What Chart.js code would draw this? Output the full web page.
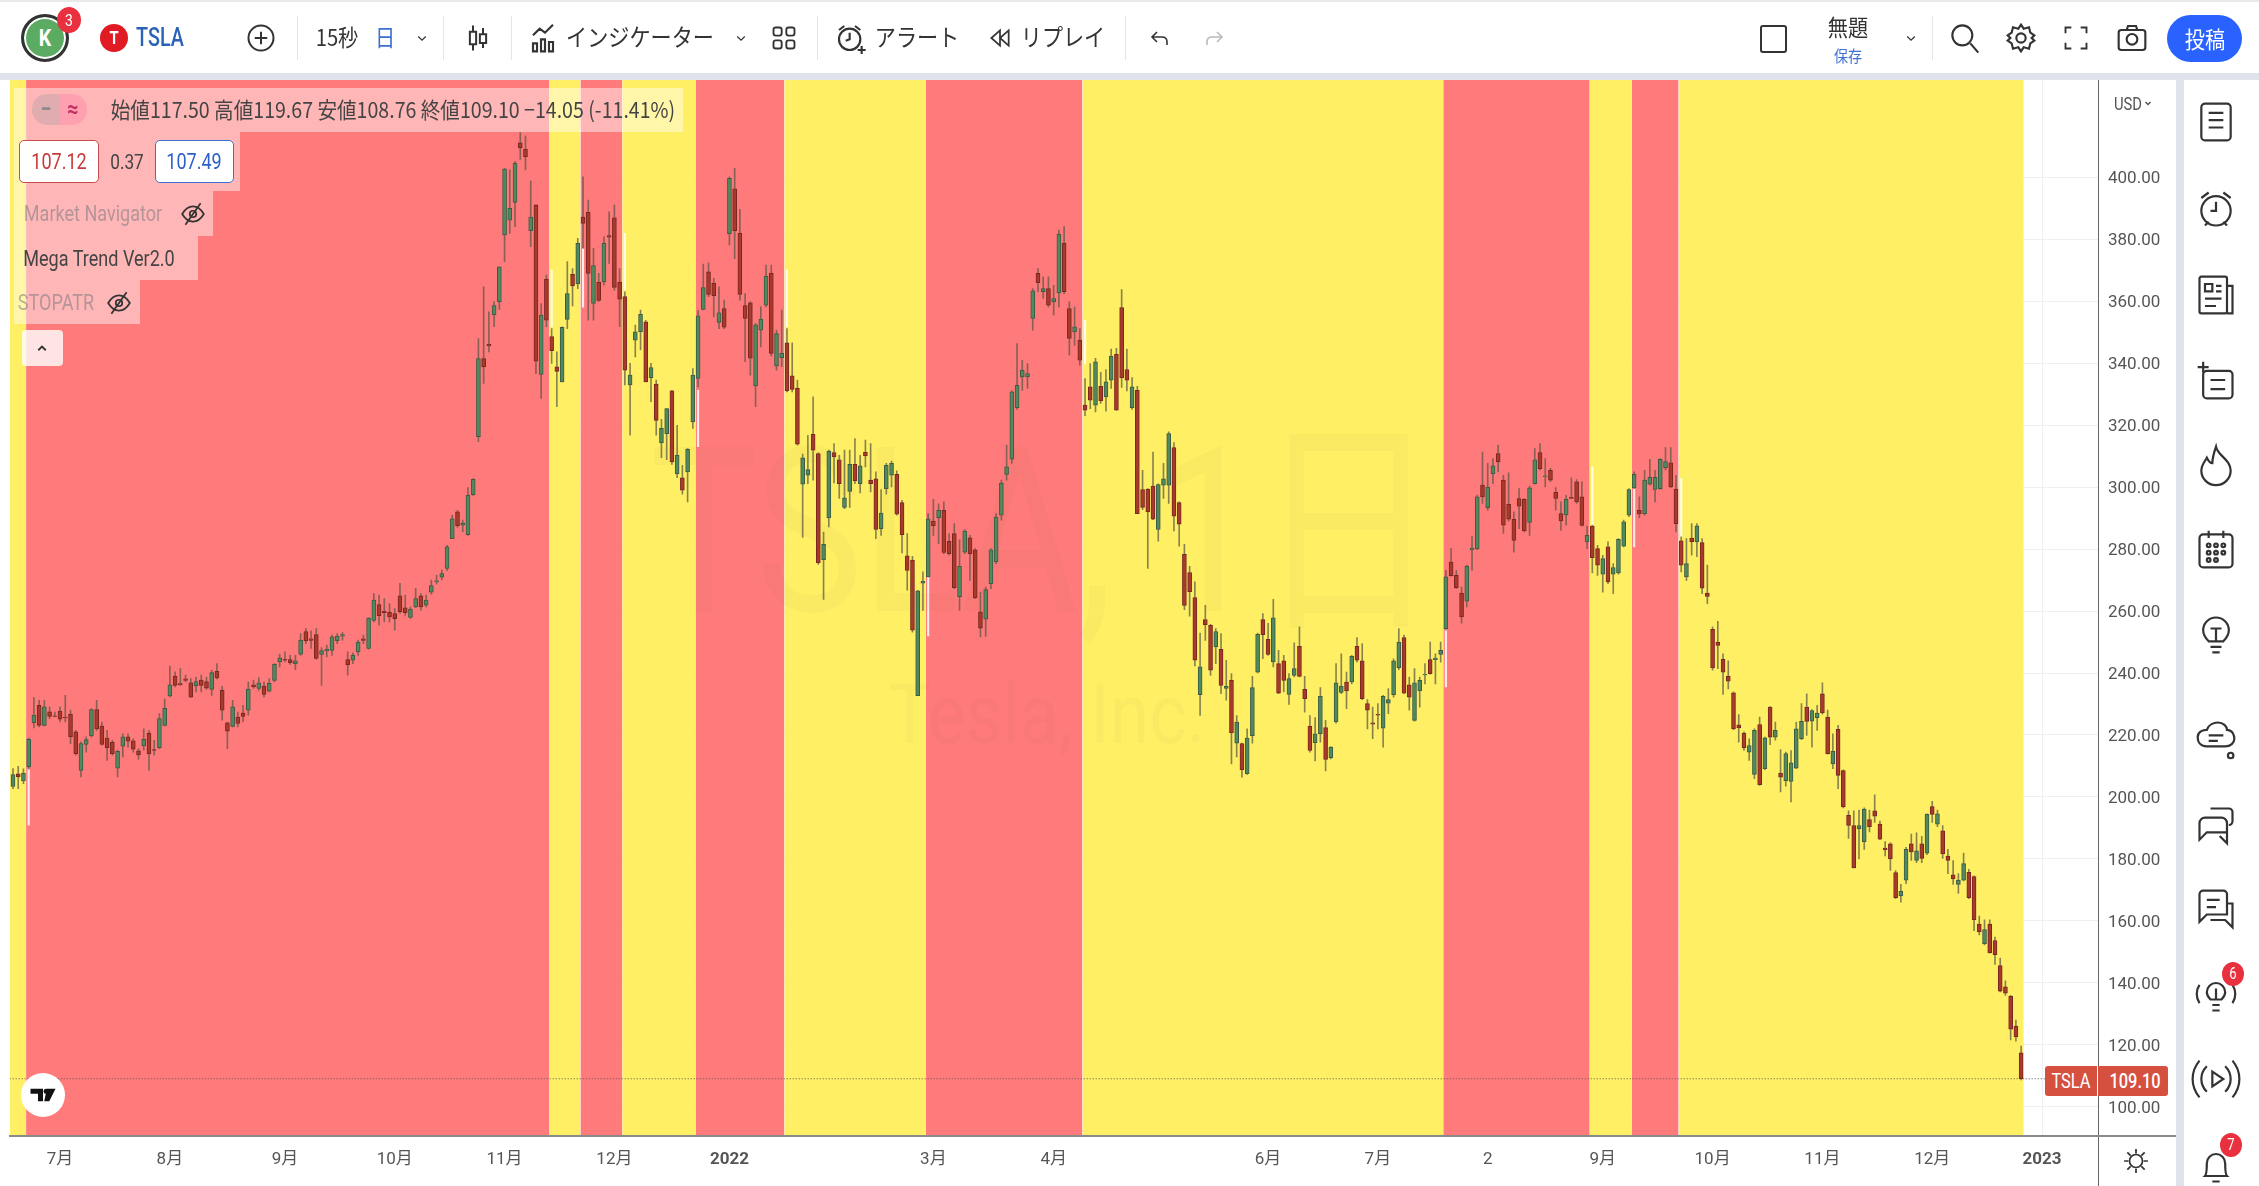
<!DOCTYPE html>
<html lang="ja">
<head>
<meta charset="utf-8">
<title>TSLA</title>
<script src="https://cdn.jsdelivr.net/npm/chart.js@4/dist/chart.umd.js"></script>
<style>
html, body { margin: 0; background: #fff; }
#page { position: relative; width: 2259px; height: 1186px; overflow: hidden; background: #fff; }
#chart { position: absolute; left: 0; top: 0; }
.t { position: absolute; white-space: nowrap; transform: translate(-50%, -50%) scaleX(0.82); color: #333;
     font-family: Roboto, "Noto Sans CJK JP", sans-serif; line-height: 1; }
.b { position: absolute; box-sizing: border-box; }
svg.i { position: absolute; transform: translate(-50%, -50%); fill: none; stroke: #333; stroke-width: 1.6; overflow: visible; }
</style>
</head>
<body>
<div id="page">
  <div class="b" style="left:0;top:0;width:2259px;height:2px;background:#e9e9ec"></div>
  <div class="b" style="left:0;top:73px;width:2259px;height:7px;background:#e0e3eb"></div>
  <div class="b" style="left:2176px;top:80px;width:8px;height:1106px;background:#e0e3eb"></div>
  <canvas id="chart" width="2259" height="1186"></canvas>
  <div id="ui"></div>
</div>
<script>
// daily candles
const opens = [
203.4,207.5,205.2,209.7,224,229.6,223.1,227.5,226.2,227.7,
225.8,226.7,221,208.6,217,219.7,228.2,222.9,219,217.6,
209.3,216.4,219.4,218.1,214.9,216.5,220.6,215.3,215.9,223.1,
232.6,239,236.6,238.1,236.8,235.9,237.7,237.2,234.7,240.5,
234.4,223.9,222.8,225.8,227.1,228,236.2,235,235.8,234.1,
237.6,243.6,244.4,244.3,243,246.1,253.4,251,252.4,246,
247.1,247.3,250.4,251.9,244.3,244.1,246.8,251,247.9,257,
262.1,260,259.6,259.2,264.9,261,257.9,261.3,264.9,261.9,
266.1,269.5,270.9,273.7,283.3,292,287.7,284.6,297.5,316.2,
341.4,346,355.5,359.8,381.3,386.1,391.8,411,409,382.7,
391,336.3,367.1,348.5,338.8,333.9,354.1,368.6,365.5,387.1,
388.6,359.2,366,366.2,381.1,386.8,366.1,361.4,332.9,347.4,
350.1,353.3,335.3,333.2,314.2,317.2,331,304.3,303,304.9,
321,335,357.3,369.4,365.7,353.1,357.6,381.7,396.2,381.8,
358.5,359.4,332.6,350.6,358.7,369,339.1,341.7,346.5,335.9,
331.8,300.9,303.8,317,310.8,276.6,290,311.1,308.8,293.4,
298.6,307.3,301.1,311.2,302.2,302.6,286.6,299.5,303.8,304.1,
295,277.8,276.4,232.7,269,271,289,290.1,292.5,282.5,
285,264.6,279,283.6,279.7,259.7,257.4,268.8,275.9,290.9,
304.1,309,325.6,335.5,335.5,354.4,368.9,363,364,359.7,
362.6,378.6,357.6,350,347.3,326.4,332.3,326.4,332.5,329.1,
334.5,342.8,357.9,337.9,325.6,331.2,299.2,299.3,300.3,286.3,
300.6,300.6,312.7,295,278.3,272.4,264.3,233,257.2,255.4,
248.4,247.6,235,237.6,217.4,217.2,207.5,219.8,240.3,257.2,
250.9,243.6,243,243.9,233.1,239.2,248.6,234.7,222.8,217.5,
220.4,222.4,212.7,224.2,233.7,237.1,237.1,248.6,243.9,230.1,
223.9,226.7,222.2,230.3,233,241.7,251.4,236.2,224.7,234.2,
239.4,244.3,244.3,246,254.3,275.8,271.5,265.8,263.2,279.8,
280,300.6,293.3,304.3,310.8,302.2,294.4,289.6,296.3,296,
288.6,301.1,311.1,303.3,305.4,298.3,291.4,291,296.7,301.7,
296.8,282.3,287.4,280.1,271.9,280.7,271.9,272.3,280.9,290.9,
299.7,292.5,291.4,300.9,299.2,299.5,306.2,307.8,299.3,282.6,
271,283.5,282.3,282.1,265.8,254.1,250,244.4,238.9,233.6,
223.3,220.6,214.5,207.3,223.4,209.1,229,219.3,207.7,205.3,
205,209.3,218.8,229,224.5,225.6,233.3,225.8,210.7,221.8,
208.5,194.1,190.8,189.8,185.6,192.7,195.5,191.3,183.5,184.9,
175.6,168.1,173.2,184.9,179.5,184.9,181.9,196.9,191.2,189.1,
180.9,174.9,171.8,173.2,175.7,174.3,159,152.7,159,153.7,
145.6,138.8,135.7,126.1,117.5];
const highs = [
209.2,209.9,209.1,219,232.1,231.2,231.2,229.1,227.4,229.1,
232.8,228,221.5,217.8,219.4,228.5,231.2,224.2,221.5,218.3,
215.1,220.4,220.4,218.8,215.6,222,221.5,218.3,226.9,231.7,
242.2,240.4,241.4,239.3,238.2,238.7,239.3,238.7,240.9,243,
235.7,224.2,231.2,227.4,229.6,237.1,237.7,238.5,237.1,238.2,
243,246.1,246.8,245.7,245.7,252.7,254.3,253.6,254.3,248.2,
249,252.2,252.7,253,246.8,246.5,250.6,252.2,257.9,265.6,
265.1,264,262.4,260.8,268.9,265.1,261.3,267.3,265.6,265.1,
270,271.6,273.2,281.2,290.9,292.5,289.3,299.8,302.7,347.9,
364.6,356.5,359.8,371,402.8,402.3,405,414.3,413.2,398.8,
391,359.2,368.4,351.1,343.6,351.7,372.7,370.5,380.2,400.1,
392.6,377,368.9,380.7,388.8,391,370.5,363,339.9,352.2,
357.1,353.8,339.9,334.5,321.8,325.3,331.2,319.9,307,312.4,
338.2,356.9,371.9,372.3,367.3,364.6,360.3,400.1,402.8,389.6,
362.4,359.8,352.8,358.1,371.6,371.6,350.6,357.1,351.1,346.5,
334.5,310.6,316.7,329.1,311,285.5,311.9,314,310.2,311.9,
311.9,315.6,310.2,315.1,314,304.9,299.2,307.6,308.4,305.2,
295.7,285,277.6,266.7,272.6,291.4,296,294.6,295.2,285,
288.2,283,286.3,284.4,280.1,266.1,267.7,280.1,291.4,302.2,
313.5,331,346.3,340.9,339.8,364,370.5,367.8,367.8,365.1,
382.9,384,359.7,358.1,351.1,335,339.8,341.5,337,337.9,
344.5,344.7,363.7,344.5,335.3,332.5,305.4,299.5,311.3,301,
307.6,317.8,314.3,295.2,281.5,274.4,269.4,252.9,261.8,255.7,
254.3,252.7,244.1,239.8,226.3,217.4,222,238.9,252.9,259.2,
256,263.8,247.3,245.7,239.8,249.7,254.9,238.9,226.3,225.6,
235.3,224.7,216.3,243,246.2,240.3,245.7,251.4,249.5,231.4,
229,230.1,232.8,235,244.6,254.3,252.2,238.7,241.4,238.7,
243,250,246.2,250,273.1,280.1,273.1,267.7,274.8,284,
297.4,311.3,307.6,309.2,313.5,303.8,304.6,292,299.5,296.3,
300.3,312.4,314,309.2,306,299.8,295.2,297.4,303,302.4,
301.7,287.4,287.7,281.2,278,282.3,275.3,283.4,289.3,299.5,
304.9,296.8,305.4,308.9,305.4,309.2,312.7,312.7,303.8,283.9,
283.4,288.2,288.2,283.4,274.8,254.9,256.7,246.2,243.9,233.9,
226.6,221,218.8,222,225.8,219.3,229.2,224.2,215.3,214.5,
215,224.2,230.1,233.3,228.2,229.6,236.8,228,220.4,223.1,
208.8,195.5,195.5,195.8,196.5,195.8,200.7,192.2,185.6,185.2,
176.3,171.8,183.8,188,188.4,187.3,194.6,198.6,195.8,190.8,
183.1,179.5,175.3,181.9,176.7,174.6,161.6,160.4,160.4,154.8,
148,140.7,136,128,119.67];
const lows = [
202.7,202.7,204.3,209,222.3,222.6,222.9,225.3,225.8,224.2,
224.2,217.2,213.5,206.5,214.5,219.4,221.5,216.7,211.8,213.5,
206.5,212.9,216.1,214.5,212.2,215.1,208.6,213.5,215.6,222.9,
232.3,235.5,236,237.1,232.1,233.9,233.9,234.7,232.8,238.1,
224.8,215.6,222.6,222.6,224.2,226.4,235,234.4,232.3,233.9,
237.1,242,243.6,242.8,241.1,245.7,249.5,247.9,244.4,236,
245.2,245.7,249.5,250.6,239.3,243,245.7,249.5,247.7,256.5,
255.4,256.5,256.5,253.8,259.2,258.6,257.6,261.1,260.3,261.3,
265.4,268.7,270,273,283.3,287,285.5,284.4,297.3,314.6,
333.4,343.6,351.7,357.3,372.7,381.8,384,405.7,402.3,377.5,
336.6,328.6,351.7,339.9,325.9,333.9,351.1,358.4,364,377,
353.8,353.8,359.8,365.1,372.1,363.5,351.7,332.9,316.7,342,
344.2,333.9,327.5,316.7,309.5,308.8,307.3,303,297.7,295.2,
318.9,332.3,357.1,361.4,354.9,351.1,351.1,378,373.7,360.3,
340.4,336.1,325.9,345.2,358.1,342.2,337.7,338.8,330.7,330.7,
313.5,283.7,301.1,302.2,275,263.7,287.1,301.3,296.3,293,
293.4,301.1,298.1,306.5,298.4,283.3,284.4,297.7,300,290.9,
278.7,266.7,253.2,232.7,260.2,271,284.4,281.7,278.5,278,
267.2,260.2,278.5,269.9,264,251.6,251.8,267.2,275.3,289.3,
302.2,307.6,325,331.2,331.8,350.6,363,360.8,358.1,355.4,
358.1,362.4,342.5,345.7,339.3,323,325.3,324.2,327,324.5,
331.8,324.8,332.1,331,325,291.4,292.7,273.7,289.5,282.5,
296.3,294.7,285.8,280.9,260.4,258.3,242.3,226.3,250.5,239.2,
243,233.3,231.2,210.7,212.9,206.4,207.3,217.4,240,244.6,
245.7,242,233.3,233.9,229.9,238.7,238.7,227.4,214.5,211.6,
217.7,208.4,212.3,223.8,233.3,228.5,236.5,243.5,231.4,222,
218.8,222,216.1,226.9,232.2,241.1,233.3,228,224.5,229,
236.5,239.6,236.5,243.5,253.8,271.2,267.2,256.1,261.3,273.1,
279.8,294.7,292.5,301.1,304.9,285,289,279,286.6,285.5,
284.4,300.9,305.4,300,301.7,292.5,286,287.7,296.3,294.7,
287.4,280.1,272.3,271.5,266.1,268.8,265.6,271.9,280.7,290.4,
299.5,290.1,290.9,300.6,295.2,299.2,305.4,299.8,285.5,272.6,
269.9,278,277.5,265.6,262.4,240.9,241.4,233.1,234.9,221.7,
217.7,215,211.8,205.9,203.7,208.8,216.9,218.3,201.6,203.5,
198.4,209.1,218.5,219.9,216.1,221.5,226.7,213.8,209.1,202.7,
196.5,186.6,177.1,180,183.1,188.7,191.8,186.2,181,176.3,
167.2,166.1,172,179.5,178.8,178.8,181.4,191.8,190.4,180.2,
175.3,171.8,168.9,172.9,167.2,156.9,155.5,152.3,149.6,146,
137.1,136,121.6,121.2,108.76];
const closes = [
207.2,206.5,207.7,218.6,226.4,223.1,229.1,226,226,225.1,
225.5,219.4,214,217.2,218.5,228.2,222,217,215.9,214,
214.7,219.4,218,215.4,213.6,218.6,214,215,225.3,228.6,
236.2,236,236.2,237.6,232.2,237.2,236,235.1,240.1,238.4,
228,221.2,229.1,223.7,226,234.8,235.5,236.8,233.1,236.7,
242.8,244.9,244.1,243.3,243.9,250.6,250.4,250.5,244.7,247.2,
247.7,251.7,251.9,252.4,242.7,245.7,250,250.5,257.7,263.5,
258.5,259.5,258.1,257.5,259.8,259.5,260.6,264,261.3,263.5,
268.2,269.7,272.1,280.7,289.7,287.5,288.4,297.3,302.5,341.4,
338.8,345.5,358.5,371,402.6,389.9,404.4,409.5,406.6,387.1,
340.6,355.5,353.8,344,337.3,351.5,362.4,364.9,378.6,385,
368.9,371.4,360.2,378.6,380.6,364.4,360.6,337.7,336.1,350.1,
355.7,333.9,338.5,321.5,318.9,325.3,308.1,310.2,299,312.2,
336.1,355.2,364.3,362.1,361.7,356.2,351.6,399.6,382.7,362.1,
354.4,341.6,352.3,354.2,368,343.1,349.5,343.1,331,331.5,
313.8,309.4,305.6,311.9,275.6,281.5,311.6,309.7,301.1,296.5,
307.3,302,306.8,310,301.1,286.3,291.6,307,307.6,291.2,
284.6,273.1,253.8,266.5,269.6,289.7,287.5,292.5,278.9,278.5,
267.5,274.4,285.8,278.5,264.2,254.5,266.9,279.7,290.3,301.3,
306.5,330.7,332.8,337.7,336.6,363.3,365.9,364,358.7,360.8,
381.5,363,347.9,351.7,340.9,324.8,328,340.4,327.8,333.9,
342.2,324.8,335.3,334.5,332.3,291.4,293.4,292,289.6,300.8,
302.6,317.2,290.6,288,261.8,266.2,244.1,242,255.6,240.9,
253.4,236,235.7,220.7,224.2,208.8,219,235.3,252.5,252.4,
246,257.8,233.5,237.6,238.2,241.4,238.9,231.7,215,220.4,
232.5,212.1,216.1,236.8,235.8,234.2,245.4,244.1,231.7,228,
223.5,226.4,232.5,231.4,243.9,250,233.5,232.2,236.8,237.6,
239.6,239.8,244.8,247.3,271,271.4,267.5,258.1,274.4,280.3,
296.8,296.8,300,306.8,308.1,287.7,289.6,282.8,293.8,285.8,
299.7,308.8,305.9,303.6,302.2,296.3,289.1,296,296.3,295.2,
287.6,284.4,277.2,274.8,276.9,269.4,274,283.1,288.8,299.2,
304.1,291.3,302.2,303.1,303.1,308.9,308.2,300,288.2,274.8,
275.3,282.4,287.5,267.4,264.7,241.6,248.9,240.3,237.4,222,
222.3,215.8,216.6,221.5,204,219.1,219.3,221.5,206.4,214,
211,222,224.4,224.4,227.9,227.1,227.1,214,214.7,207,
196.8,190.8,177.1,190.8,196.1,190.4,193.8,186.4,182.9,180,
167.5,169.6,183.1,182.3,182.6,180.2,194.4,194.4,194.6,181.6,
179.5,173.6,173.2,178.5,167.5,160.4,156.5,157.2,149.8,149.1,
137.4,136.7,125.1,122.6,109.1];

// trend zones, edges in bar numbers
const zoneEdges = [-0.63,2.5,102.5,108.5,116.5,130.5,147.5,174.5,204.5,273.5,301.5,309.5,318.5,384.5];
const zoneKinds = ['y','r','y','r','y','r','y','r','y','r','y','r','y'];

// white marks of the Mega Trend indicator
const markBars = [3,103,109,117,131,148,175,205,274,302,310,319];
const markHighs = [209.1,370,377,381.8,331.2,370,271,353.8,254,306.5,299.5,302.7];
const markLows = [190.9,351.7,358,363.5,313,351.7,252,339.8,235.5,287.7,280.7,283.9];

const monthBars = [9,30,52,73,94,115,137,176,199,240,261,282,304,325,346,367,388];
const monthLabels = ['7月','8月','9月','10月','11月','12月','2022','3月','4月','6月','7月','2','9月','10月','11月','12月','2023'];
const priceTicks = [100,120,140,160,180,200,220,240,260,280,300,320,340,360,380,400];

const xMin = -0.63, xMax = 398.7, yMin = 90.8, yMax = 431.3;
const lastClose = closes[closes.length - 1];

const zoneColors = { y: 'rgba(255,238,96,0.97)', r: 'rgba(255,118,118,0.97)' };
const zoneSets = zoneKinds.map((k, i) => ({
  type: 'line', order: 10, pointRadius: 0, borderWidth: 0, fill: 'start',
  backgroundColor: zoneColors[k],
  data: [{ x: zoneEdges[i], y: yMax }, { x: zoneEdges[i + 1], y: yMax }]
}));

const bars = closes.map((c, i) => i);
const up = i => closes[i] >= opens[i];

new Chart(document.getElementById('chart'), {
  type: 'bar',
  data: {
    datasets: [
      {
        order: 1, grouped: false, barThickness: 4, borderWidth: 1, borderSkipped: false,
        data: bars.map(i => ({ x: i, y: [opens[i], closes[i]] })),
        backgroundColor: bars.map(i => up(i) ? '#4f8a5e' : '#a83a2c'),
        borderColor: bars.map(i => up(i) ? '#3c5a46' : '#7a2620')
      },
      {
        order: 2, grouped: false, barThickness: 1, borderWidth: 0,
        data: bars.map(i => ({ x: i, y: [lows[i], highs[i]] })),
        backgroundColor: 'rgba(85,85,70,0.7)'
      },
      {
        order: 3, grouped: false, barThickness: 1.5, borderWidth: 0,
        data: markBars.map((b, i) => ({ x: b, y: [markLows[i], markHighs[i]] })),
        backgroundColor: 'rgba(255,255,255,0.85)'
      },
      {
        type: 'line', order: 4, pointRadius: 0, borderWidth: 1, borderDash: [1, 2], borderColor: '#555',
        data: [{ x: xMin, y: lastClose }, { x: 388.6, y: lastClose }]
      },
      ...zoneSets
    ]
  },
  options: {
    responsive: false,
    animation: false,
    layout: { padding: { left: 9.7, top: 80, right: 91, bottom: 0 } },
    plugins: { legend: { display: false }, tooltip: { enabled: false } },
    scales: {
      x: {
        type: 'linear', min: xMin, max: xMax, offset: false,
        afterBuildTicks: s => { s.ticks = monthBars.map(v => ({ value: v })); },
        afterFit: s => { s.height = 50.5; },
        grid: { offset: false, color: '#edeff3', drawTicks: false },
        border: { color: '#8a8a8a', width: 2 },
        ticks: {
          autoSkip: false, maxRotation: 0, padding: 14, color: '#555',
          font: c => ({ family: 'Roboto,"Noto Sans CJK JP",sans-serif', size: 17,
                        weight: c.tick && (c.tick.value === 137 || c.tick.value === 388) ? 'bold' : 'normal' }),
          callback: v => monthLabels[monthBars.indexOf(v)]
        }
      },
      y: {
        position: 'right', min: yMin, max: yMax,
        afterBuildTicks: s => { s.ticks = priceTicks.map(v => ({ value: v })); },
        afterFit: s => { s.width = 70; },
        grid: { color: '#edeff3', drawTicks: false },
        border: { color: '#666', width: 1 },
        ticks: {
          padding: 10, labelOffset: 2, color: '#555',
          font: { family: 'Roboto,sans-serif', size: 17 },
          callback: v => v.toFixed(2)
        }
      }
    }
  }
});

// toolbar, legend and side panel around the chart
const ui = document.getElementById('ui');
function text(x, y, s, size, extra) {
  ui.insertAdjacentHTML('beforeend', `<div class="t" style="left:${x}px;top:${y}px;font-size:${size}px;${extra || ''}">${s}</div>`);
}
function jp(x, y, s, size, extra) {
  text(x, y, s, size, 'font-family:\'Noto Sans CJK JP\';transform:translate(-50%,-50%) scaleX(0.88);' + (extra || ''));
}
function box(x, y, w, h, extra) {
  ui.insertAdjacentHTML('beforeend', `<div class="b" style="left:${x}px;top:${y}px;width:${w}px;height:${h}px;${extra || ''}"></div>`);
}
function icon(x, y, s, inner, extra) {
  ui.insertAdjacentHTML('beforeend', `<svg class="i" style="left:${x}px;top:${y}px;${extra || ''}" width="${s}" height="${s}" viewBox="0 0 24 24">${inner}</svg>`);
}
const chevron = '<path d="M7 10l5 5 5-5"/>';
const sep = x => box(x, 16, 1, 44, 'background:#e6e6ea');

// watermark
text(1044, 533, 'TSLA, 1日', 230, 'color:rgba(120,110,60,0.045);transform:translate(-50%,-50%) scaleX(0.78)');
text(1047, 715, 'Tesla, Inc.', 84, 'color:rgba(120,110,60,0.045);transform:translate(-50%,-50%) scaleX(0.85)');

// toolbar
box(21, 14, 48, 48, 'border-radius:50%;background:#5cab62;border:3px solid #333;box-shadow:inset 0 0 0 2px #fff');
text(45, 38, 'K', 24, 'color:#fff;font-weight:bold');
box(57, 7, 24, 26, 'border-radius:50%;background:#e8303f');
text(69, 20, '3', 17, 'color:#fff');
box(100, 24, 28, 28, 'border-radius:50%;background:#e01b24');
text(114, 38, 'T', 18, 'color:#fff;font-weight:bold');
text(160, 37, 'TSLA', 26, 'color:#2a62b8;font-weight:500;transform:translate(-50%,-50%) scaleX(0.76)');
icon(261, 38, 30, '<circle cx="12" cy="12" r="10"/><path d="M12 7v10M7 12h10"/>');
sep(297);
jp(337, 36, '15秒', 23);
jp(385, 36, '日', 23, 'color:#3d6fd0');
icon(422, 38, 18, chevron);
sep(443);
icon(478, 38, 30, '<path d="M8 2v20M16 4v16"/><rect x="5.5" y="7" width="5" height="10" fill="#fff"/><rect x="13.5" y="9" width="5" height="7" fill="#fff"/>');
sep(511);
icon(545, 38, 32, '<path d="M3 10l5-5 4 3 6-6M3 22v-6h3v6zM9 22v-9h3v9zM15 22v-7h3v7z"/>');
jp(640, 36, 'インジケーター', 24);
icon(741, 38, 18, chevron);
icon(784, 38, 28, '<rect x="3" y="3" width="7" height="7" rx="2"/><rect x="14" y="3" width="7" height="7" rx="2"/><rect x="3" y="14" width="7" height="7" rx="2"/><rect x="14" y="14" width="7" height="7" rx="2"/>');
sep(817);
icon(851, 38, 32, '<circle cx="11" cy="13" r="8"/><path d="M3 6l4-3M15 3l4 3M11 8v5l-3 1M17 21h6M20 18v6"/>');
jp(917, 36, 'アラート', 24);
icon(1000, 38, 26, '<path d="M12 5l-8 7 8 7zM20 5l-8 7 8 7z"/>');
jp(1063, 36, 'リプレイ', 24);
sep(1125);
icon(1160, 38, 24, '<path d="M9 6l-5 5 5 5M4 11h10c3 0 5 2 5 5v3"/>');
icon(1214, 38, 24, '<path d="M15 6l5 5-5 5M20 11H10c-3 0-5 2-5 5v3"/>', 'stroke:#bbb');
box(1760, 25, 27, 28, 'border:2px solid #333;border-radius:3px');
jp(1848, 26, '無題', 23);
jp(1848, 55, '保存', 16, 'color:#3d6fd0');
icon(1911, 38, 18, chevron);
sep(1932);
icon(1965, 38, 32, '<circle cx="10" cy="10" r="7.5"/><path d="M16 16l6 7"/>');
icon(2021, 38, 32, '<circle cx="12" cy="12" r="3.5"/><path d="M12 2l2 3 4-1 1 4 3 2-2 2 2 2-3 2-1 4-4-1-2 3-2-3-4 1-1-4-3-2 2-2-2-2 3-2 1-4 4 1z"/>');
icon(2076, 38, 28, '<path d="M3 8V3h5M16 3h5v5M21 16v5h-5M8 21H3v-5"/>');
icon(2132, 38, 32, '<rect x="2" y="6" width="20" height="15" rx="2"/><path d="M8 6l1-3h6l1 3"/><circle cx="12" cy="13" r="4"/>');
box(2167, 15, 75, 47, 'border-radius:24px;background:#2962ff');
jp(2205, 38, '投稿', 23, 'color:#fff');

// legend over the chart
box(14, 88, 669, 44, 'background:rgba(255,255,255,0.45)');
box(14, 132, 226, 59, 'background:rgba(255,255,255,0.45)');
box(14, 191, 199, 45, 'background:rgba(255,255,255,0.45)');
box(14, 236, 184, 44, 'background:rgba(255,255,255,0.45)');
box(14, 280, 126, 44, 'background:rgba(255,255,255,0.45)');
box(32, 94, 28, 31, 'background:rgba(215,170,175,0.8);border-radius:15px 0 0 15px');
box(60, 94, 27, 31, 'background:#ffa0b0;border-radius:0 15px 15px 0');
text(46, 109, '−', 24, 'color:#8a8a8a;font-weight:bold');
text(73, 109, '≈', 24, 'color:#c03060;font-weight:bold');
text(393, 108, '始値117.50 高値119.67 安値108.76 終値109.10 −14.05 (-11.41%)', 22, 'color:#444;font-family:\'Noto Sans CJK JP\';transform:translate(-50%,-50%) scaleX(0.89)');
box(19, 140, 80, 43, 'background:#fff;border:1.5px solid #c84a4a;border-radius:5px');
text(59, 162, '107.12', 22, 'color:#c83a3a');
text(127, 162, '0.37', 21, 'color:#444');
box(155, 140, 79, 43, 'background:#fff;border:1.5px solid #3d6fd0;border-radius:5px');
text(194, 162, '107.49', 22, 'color:#2f62c8');
const hidden = '<path d="M2 12c3-5 7-7 10-7s7 2 10 7c-3 5-7 7-10 7s-7-2-10-7z"/><circle cx="12" cy="12" r="3"/><path d="M19 2L5 22"/>';
text(93, 214, 'Market Navigator', 22, 'color:rgba(120,120,130,0.55)');
icon(193, 214, 26, hidden);
text(99, 259, 'Mega Trend Ver2.0', 22, 'color:#444');
text(56, 303, 'STOPATR', 22, 'color:rgba(120,120,130,0.55)');
icon(119, 303, 26, hidden);
box(22, 330, 41, 36, 'background:rgba(255,255,255,0.8);border-radius:4px');
icon(42, 348, 18, '<path d="M7 15l5-5 5 5"/>', 'stroke-width:2.4');
box(21, 1073, 44, 44, 'background:#fff;border-radius:50%');
icon(43, 1095, 30, '<path d="M2 7h10v10H8v-6H2zM15 7h7l-5 10h-4z"/><circle cx="14.5" cy="9" r="2"/>', 'fill:#111;stroke:none');

// price axis extras
text(2128, 104, 'USD', 18, 'color:#555');
icon(2148, 103, 12, chevron, 'stroke-width:3;stroke:#555');
box(2045, 1066, 52, 30, 'background:#d6503f;border-radius:3px 0 0 3px');
text(2071, 1081, 'TSLA', 20, 'color:#fff');
box(2098, 1066, 70, 30, 'background:#d6503f;border-radius:0 3px 3px 0');
text(2135, 1081, lastClose.toFixed(2), 20, 'color:#fff;font-weight:500');
box(2098, 1136, 1, 50, 'background:#666');
box(9, 1135, 2167, 2, 'background:#8a8a8a');
icon(2136, 1161, 26, '<circle cx="12" cy="12" r="6"/><path d="M12 1v4M12 19v4M1 12h4M19 12h4M4 4l3 3M17 17l3 3M4 20l3-3M17 7l3-3"/>');

// side panel
const side = [
  [122, '<rect x="4" y="2" width="16" height="20" rx="2"/><path d="M8 7h8M8 11h8M8 15h8"/>'],
  [209, '<circle cx="12" cy="13" r="8"/><path d="M4 6l4-3M16 3l4 3M12 8v5H9M6 21l2-2M18 21l-2-2"/>'],
  [295, '<rect x="3" y="2" width="15" height="20" rx="1"/><path d="M18 7h3v15H18M6 6h4v4H6zM12 7h3M12 10h3M6 14h9M6 18h6"/>'],
  [380, '<path d="M2 5h6M5 2v6"/><rect x="5" y="7" width="16" height="15" rx="2"/><path d="M9 12h8M9 17h8"/>'],
  [465, '<path d="M12 2c1 5 8 7 8 13a8 8 0 0 1-16 0c0-3 2-5 3-7 1 2 2 3 3 3 0-3 1-6 2-9z"/>'],
  [549, '<rect x="3" y="4" width="18" height="18" rx="2"/><path d="M8 2v4M16 2v4"/><circle cx="8" cy="10" r="1"/><circle cx="12" cy="10" r="1"/><circle cx="16" cy="10" r="1"/><circle cx="8" cy="14" r="1"/><circle cx="12" cy="14" r="1"/><circle cx="16" cy="14" r="1"/><circle cx="8" cy="18" r="1"/><circle cx="12" cy="18" r="1"/>'],
  [634, '<path d="M8 16c-2-2-3-4-3-6a7 7 0 0 1 14 0c0 2-1 4-3 6zM9 19h6M10 22h4M12 9v7M9 9h6"/>'],
  [739, '<path d="M7 16c-4 0-5-3-5-5 0-3 3-4 5-4 1-3 4-4 6-4 3 0 5 2 5 4 3 0 4 3 4 5s-2 4-5 4z"/><path d="M8 10h8M8 13h5"/><circle cx="20" cy="21" r="1.5"/>'],
  [825, '<path d="M9 3h10a2 2 0 0 1 2 2v5a2 2 0 0 1-2 2M3 11a3 3 0 0 1 3-3h9a3 3 0 0 1 3 3v5H7l-4 4zM18 16v6l-4-4"/>'],
  [909, '<path d="M3 4a2 2 0 0 1 2-2h11a2 2 0 0 1 2 2v11H7l-4 4zM7 7h7M7 11h5M18 9h3v13l-4-4h-8"/>'],
  [994, '<path d="M9 15c-1-1-2-3-2-4a5 5 0 0 1 10 0c0 1-1 3-2 4zM10 18h4M10 21h4M12 9v6M3 7c-2 3-2 7 0 10M21 7c2 3 2 7 0 10"/>'],
  [1079, '<path d="M7 5c-4 4-4 10 0 14M17 5c4 4 4 10 0 14M3 2c-5 6-5 14 0 20M21 2c5 6 5 14 0 20M10 8l6 4-6 4z"/>'],
  [1165, '<path d="M6 18c1-1 1-3 1-7a5 5 0 0 1 10 0c0 4 0 6 1 7zM10 21h4"/>']
];
side.forEach(s => icon(2216, s[0], 44, s[1], 'stroke-width:1.2'));
box(2222, 962, 22, 24, 'background:#e8303f;border-radius:50%');
text(2233, 974, '6', 16, 'color:#fff');
box(2220, 1133, 22, 24, 'background:#e8303f;border-radius:50%');
text(2231, 1145, '7', 16, 'color:#fff');
</script>
</body>
</html>
